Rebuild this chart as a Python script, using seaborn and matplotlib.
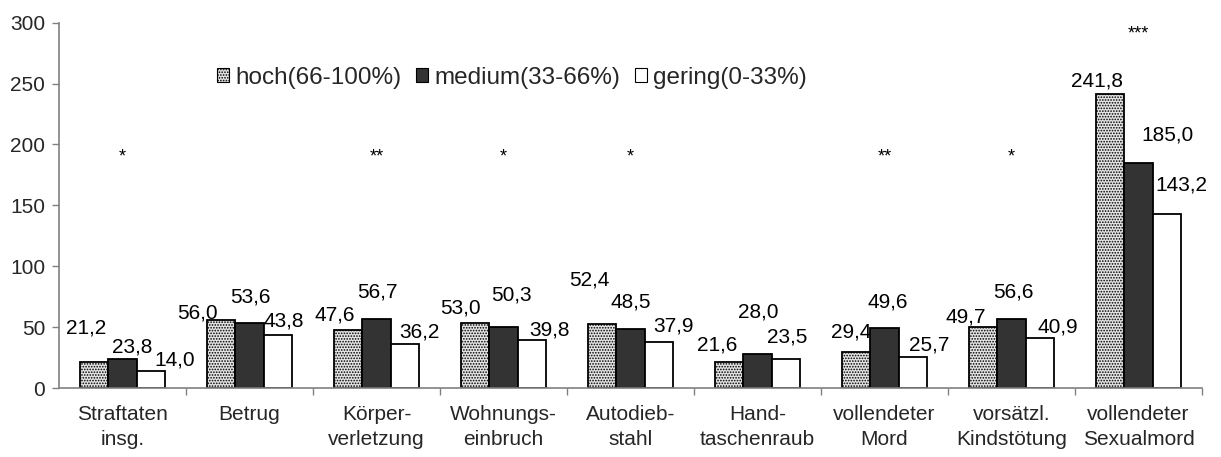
import numpy as np
import pandas as pd
import matplotlib
matplotlib.use("Agg")
import matplotlib.pyplot as plt
from matplotlib.patches import Patch
from matplotlib.ticker import FixedLocator
import seaborn as sns

# ---- data ----
categories = ["Straftaten\ninsg.", "Betrug", "Körper-\nverletzung", "Wohnungs-\neinbruch",
              "Autodieb-\nstahl", "Hand-\ntaschenraub", "vollendeter\nMord",
              "vorsätzl.\nKindstötung", "vollendeter\nSexualmord"]
series_names = ["hoch(66-100%)", "medium(33-66%)", "gering(0-33%)"]
hoch = [21.2, 56.0, 47.6, 53.0, 52.4, 21.6, 29.4, 49.7, 241.8]
medium = [23.8, 53.6, 56.7, 50.3, 48.5, 28.0, 49.6, 56.6, 185.0]
gering = [14.0, 43.8, 36.2, 39.8, 37.9, 23.5, 25.7, 40.9, 143.2]
significance = ["*", "", "**", "*", "*", "", "**", "*", "***"]
y_ticks = [0, 50, 100, 150, 200, 250, 300]

# ---- layout of labels (pixel offsets from bar top, manually placed in original) ----
label_dx = [[-8, -24, -13, -15, -13, -12, -5, -17, -13],
            [10, 1, 1, 8, 0, 1, 3, 2, 29],
            [24, 6, 15, 18, 15, 1, 16, 18, 15]]
label_dy = [[34, 7, 15, 15, 44, 17, 20, 10, 13],
            [12, 26, 27, 32, 27, 42, 26, 27, 28],
            [11, 14, 12, 10, 16, 22, 12, 11, 29]]
star_y = [190, 190, 190, 190, 190, 190, 190, 190, 291]

sns.set_theme(style="white")
plt.rcParams["font.family"] = ["Liberation Sans", "DejaVu Sans"]
plt.rcParams["hatch.color"] = "#8a8a8a"
plt.rcParams["hatch.linewidth"] = 0.8

df = pd.DataFrame({
    "cat": categories * 3,
    "series": sum([[s] * len(categories) for s in series_names], []),
    "val": hoch + medium + gering,
})

FS = 15
colors = ["#e4e4e4", "#333333", "#ffffff"]
fig = plt.figure(figsize=(12.21, 4.57), dpi=100)
ax = fig.add_axes([59 / 1221, 1 - 388 / 457, (1202 - 59) / 1221, (388 - 22.7) / 457])

sns.barplot(data=df, x="cat", y="val", hue="series", hue_order=series_names,
            palette=colors, width=0.67, edgecolor="black", linewidth=1.3,
            saturation=1, legend=False, ax=ax)

for p in ax.containers[0]:
    p.set_hatch("......")

# value labels
for si, cont in enumerate(ax.containers):
    for ci, p in enumerate(cont):
        h = p.get_height()
        xc = p.get_x() + p.get_width() / 2
        ax.annotate(f"{h:.1f}".replace(".", ","), xy=(xc, h),
                    xytext=(label_dx[si][ci], label_dy[si][ci]), textcoords="offset pixels",
                    ha="center", va="center", fontsize=FS, color="black")

# significance stars
for ci, s in enumerate(significance):
    if s:
        ax.text(ci, star_y[ci], s, ha="center", va="center", fontsize=13, color="black")

ax.set_ylim(0, 300)
ax.set_xlim(-0.5, len(categories) - 0.5)
ax.set_yticks(y_ticks)
ax.set_yticklabels([str(t) for t in y_ticks], fontsize=FS)
ax.set_xticks(range(len(categories)))
ax.set_xticklabels(categories, fontsize=FS, linespacing=1.4)
ax.xaxis.set_minor_locator(FixedLocator(np.arange(0.5, len(categories) - 0.5 + 0.01, 1)))
ax.tick_params(axis="x", which="major", length=0, pad=12)
ax.tick_params(axis="x", which="minor", length=5, width=1, color="#808080", direction="out", bottom=True)
ax.tick_params(axis="y", which="major", length=5, width=1, color="#808080", direction="out", left=True, pad=5)
ax.set_xlabel("")
ax.set_ylabel("")
for side in ["top", "right"]:
    ax.spines[side].set_visible(False)
for side in ["left", "bottom"]:
    ax.spines[side].set_color("#808080")
    ax.spines[side].set_linewidth(1.2)

handles = [Patch(facecolor=colors[0], edgecolor="black", hatch="......", linewidth=0.8),
           Patch(facecolor=colors[1], edgecolor="black", linewidth=0.8),
           Patch(facecolor=colors[2], edgecolor="black", linewidth=0.8)]
fig.legend(handles, series_names, loc="center left", bbox_to_anchor=(217 / 1221, 1 - 78 / 457),
           ncol=3, frameon=False, fontsize=17.5, handlelength=0.5, handleheight=0.5,
           handletextpad=0.25, columnspacing=0.6, borderaxespad=0, borderpad=0)

fig.savefig("out.png", dpi=100)
